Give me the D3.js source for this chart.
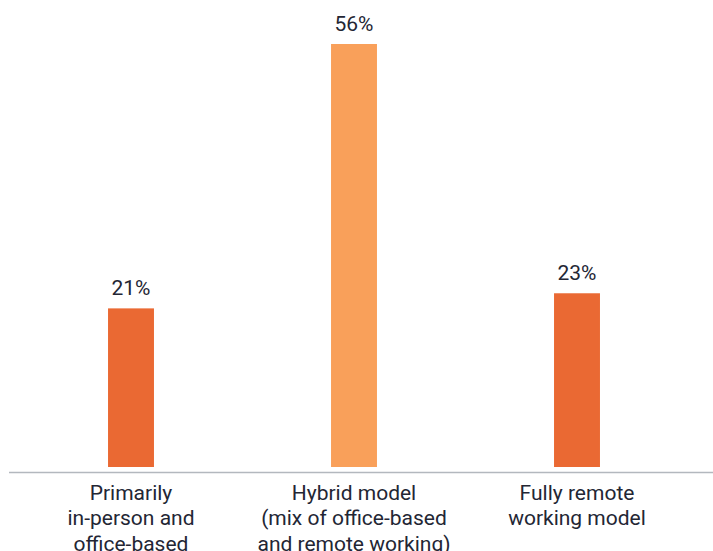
<!DOCTYPE html>
<html>
<head>
<meta charset="utf-8">
<script src="https://cdn.jsdelivr.net/npm/d3@7"></script>
<style>
  html, body { margin: 0; padding: 0; background: #ffffff; overflow: hidden; }
  svg { display: block; }
</style>
</head>
<body>
<svg id="chart" width="713" height="551"></svg>
<script>
const categories = [
  "Primarily\nin-person and\noffice-based",
  "Hybrid model\n(mix of office-based\nand remote working)",
  "Fully remote\nworking model"
];
const values = [21, 56, 23];
const valueLabels = ["21%", "56%", "23%"];
const barColors = ["#EA6933", "#F9A05A", "#EA6933"];

const svg = d3.select("#chart");
const W = 713, H = 551;
const baseY = 467;

const x = d3.scaleBand()
  .domain(categories)
  .range([19.5, 688.5])
  .paddingInner(0.794)
  .paddingOuter(0.397);

const y = d3.scaleLinear()
  .domain([0, 56])
  .range([baseY, 44]);

const font = "Roboto, 'DejaVu Sans', sans-serif";
const textColor = "#232634";

svg.selectAll("rect.bar")
  .data(values)
  .enter().append("rect")
  .attr("class", "bar")
  .attr("x", (d, i) => x(categories[i]))
  .attr("y", d => y(d))
  .attr("width", x.bandwidth())
  .attr("height", d => baseY - y(d))
  .attr("fill", (d, i) => barColors[i]);

svg.selectAll("text.val")
  .data(values)
  .enter().append("text")
  .attr("class", "val")
  .attr("x", (d, i) => x(categories[i]) + x.bandwidth() / 2)
  .attr("y", d => y(d) - 13)
  .attr("text-anchor", "middle")
  .attr("font-family", font)
  .attr("font-size", 21)
  .attr("fill", textColor)
  .text((d, i) => valueLabels[i]);

// baseline axis
const axis = d3.axisBottom(x).tickSize(0).tickFormat("");
const axisG = svg.append("g")
  .attr("transform", `translate(0,${baseY + 5.5})`)
  .call(axis);
axisG.select(".domain").remove();
axisG.append("line")
  .attr("x1", 9).attr("x2", W)
  .attr("y1", 0).attr("y2", 0)
  .attr("stroke", "#b3b8be")
  .attr("stroke-width", 1.6);

// category labels
const lab = svg.selectAll("text.cat")
  .data(categories)
  .enter().append("text")
  .attr("class", "cat")
  .attr("x", d => x(d) + x.bandwidth() / 2)
  .attr("y", 499.5)
  .attr("text-anchor", "middle")
  .attr("font-family", font)
  .attr("font-size", 21)
  .attr("fill", textColor);
lab.each(function(d) {
  const t = d3.select(this);
  d.split("\n").forEach((line, i) => {
    t.append("tspan")
      .attr("x", x(d) + x.bandwidth() / 2)
      .attr("dy", i === 0 ? 0 : 25.5)
      .text(line);
  });
});
</script>
</body>
</html>
